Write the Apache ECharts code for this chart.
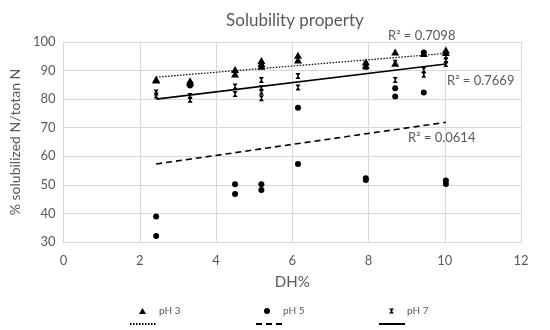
<!DOCTYPE html>
<html><head><meta charset="utf-8">
<script src="https://cdn.jsdelivr.net/npm/echarts@6/dist/echarts.min.js"></script>
<style>html,body{margin:0;padding:0;background:#fff}#c{width:550px;height:330px}</style>
</head><body><div id="c"></div>
<script>
// Data: [DH%, % solubilized N/total N]
const ph3 = [[2.43,86.7],[2.43,87.0],[3.32,86.4],[3.32,85.8],[4.50,90.4],[4.50,88.8],
  [5.19,93.5],[5.19,92.5],[5.19,91.5],[6.15,95.4],[6.15,93.7],[7.93,93.0],[7.93,91.8],
  [8.70,96.5],[8.70,92.6],[9.45,96.0],[10.03,97.2],[10.03,96.3]];
const ph5 = [[2.43,38.9],[2.43,32.1],[3.32,85.5],[3.32,84.8],[4.50,50.2],[4.50,46.8],
  [5.19,50.2],[5.19,48.2],[6.15,77.0],[6.15,57.3],[7.93,52.3],[7.93,51.7],
  [8.70,83.8],[8.70,80.9],[9.45,96.3],[9.45,82.3],[10.03,51.5],[10.03,50.3]];
const ph7 = [[2.43,82.3],[2.43,81.3],[3.32,81.1],[3.32,79.8],[4.50,84.4],[4.50,81.8],
  [5.19,86.7],[5.19,83.8],[5.19,82.6],[5.19,80.3],[6.15,88.1],[6.15,84.1],
  [7.93,92.2],[7.93,91.3],[8.70,92.7],[8.70,86.7],[9.45,90.2],[9.45,88.5],
  [10.03,95.0],[10.03,93.5],[10.03,92.3]];
// Trendline end points
const trend3 = [[2.43,87.7],[10.03,96.0]];
const trend5 = [[2.43,57.3],[10.03,71.9]];
const trend7 = [[2.43,80.0],[10.03,92.3]];
const r2Labels = ['R\u00b2 = 0.7098','R\u00b2 = 0.0614','R\u00b2 = 0.7669'];
const xTicks = {min:0, max:12, interval:2};
const yTicks = {min:30, max:100, interval:10};

const FONT = 'Lato, "Open Sans", sans-serif';
const GRAY = '#595959';
const hourglass = 'path://M0,0 L10,0 L6,5 L10,10 L0,10 L4,5 Z';

const chart = echarts.init(document.getElementById('c'));
const legendText = {color: GRAY, fontSize: 10, fontFamily: FONT, padding: [0,0,0,8]};
function scatterLegend(name, icon, left, w, h) {
  return {data:[{name, icon}], left, top: 301, itemWidth: w, itemHeight: h,
    textStyle: legendText, selectedMode: false};
}
function lineLegend(name, left) {
  return {data:[{name}], left, top: 315, itemWidth: 26, itemHeight: 8,
    itemStyle: {opacity: 0},
    formatter: () => '', selectedMode: false, textStyle:{fontSize:1}};
}
chart.setOption({
  animation: false,
  title: {text: 'Solubility property', left: 290, top: 7, textAlign: 'center',
    textStyle: {color: GRAY, fontSize: 17, fontWeight: 'normal', fontFamily: FONT}},
  grid: {left: 59, right: 29, top: 42, bottom: 88},
  xAxis: {type: 'value', min: xTicks.min, max: xTicks.max, interval: xTicks.interval,
    name: 'DH%', nameLocation: 'middle', nameGap: 33,
    nameTextStyle: {color: GRAY, fontSize: 15, fontFamily: FONT},
    axisLine: {show: true, lineStyle: {color: '#d9d9d9'}}, axisTick: {show: false},
    axisLabel: {color: GRAY, fontSize: 13, fontFamily: FONT, margin: 12},
    splitLine: {lineStyle: {color: '#d9d9d9'}}},
  yAxis: {type: 'value', min: yTicks.min, max: yTicks.max, interval: yTicks.interval,
    name: '% solubilized N/totan N', nameLocation: 'middle', nameGap: 29,
    nameTextStyle: {color: GRAY, fontSize: 14, fontFamily: FONT},
    axisLine: {show: true, lineStyle: {color: '#d9d9d9'}}, axisTick: {show: false},
    axisLabel: {color: GRAY, fontSize: 13, fontFamily: FONT, margin: 8},
    splitLine: {lineStyle: {color: '#d9d9d9'}}},
  legend: [
    scatterLegend('pH 3', 'triangle', 134, 7, 6),
    scatterLegend('pH 5', 'circle', 259, 6, 6),
    scatterLegend('pH 7', hourglass, 384, 5, 6),
    lineLegend('pH 3 trend', 124),
    lineLegend('pH 5 trend', 250),
    lineLegend('pH 7 trend', 373)
  ],
  series: [
    {name: 'pH 3', type: 'scatter', data: ph3, symbol: 'triangle', symbolSize: [8,7],
      itemStyle: {color: '#000', opacity: 1}},
    {name: 'pH 5', type: 'scatter', data: ph5, symbol: 'circle', symbolSize: 6,
      itemStyle: {color: '#000', opacity: 1}},
    {name: 'pH 7', type: 'scatter', data: ph7, symbol: hourglass, symbolSize: [5,6],
      itemStyle: {color: '#000', opacity: 1}},
    {name: 'pH 3 trend', type: 'line', data: trend3, symbol: 'none',
      lineStyle: {color: '#000', width: 1.2, type: [1.5,1.5]}, itemStyle:{color:'#000'}},
    {name: 'pH 5 trend', type: 'line', data: trend5, symbol: 'none',
      lineStyle: {color: '#000', width: 1.6, type: [6,4]}, itemStyle:{color:'#000'}},
    {name: 'pH 7 trend', type: 'line', data: trend7, symbol: 'none',
      lineStyle: {color: '#000', width: 1.6, type: 'solid'}, itemStyle:{color:'#000'}}
  ],
  graphic: [
    {type: 'text', left: 388, top: 29, style: {text: r2Labels[0], fill: GRAY, fontSize: 13, fontFamily: FONT}},
    {type: 'text', left: 408, top: 131, style: {text: r2Labels[1], fill: GRAY, fontSize: 13, fontFamily: FONT}},
    {type: 'text', left: 447, top: 74, style: {text: r2Labels[2], fill: GRAY, fontSize: 13, fontFamily: FONT}}
  ]
});
</script></body></html>
